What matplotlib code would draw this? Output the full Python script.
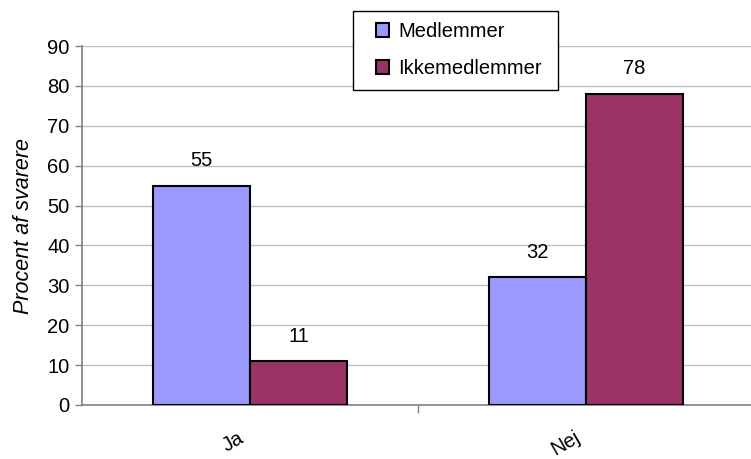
import matplotlib
matplotlib.use("Agg")
import matplotlib.pyplot as plt
import matplotlib.transforms as mtransforms
from matplotlib.patches import Rectangle
import numpy as np

plt.rcParams['font.family'] = ['Liberation Sans', 'DejaVu Sans']

categories = ["Ja", "Nej"]
series_names = ["Medlemmer", "Ikkemedlemmer"]
medlemmer = [55, 32]
ikkemedlemmer = [11, 78]
colors = ["#9999FF", "#993366"]
yticks = [0, 10, 20, 30, 40, 50, 60, 70, 80, 90]

FS = 14.5
W, H = 751, 459

fig = plt.figure(figsize=(W / 100, H / 100), dpi=100)
ax = fig.add_axes([82 / W, 1 - 405 / H, 672 / W, (405 - 46) / H])

x = np.arange(len(categories))
w = 0.288
handles = []
for i, (vals, name, col) in enumerate(zip([medlemmer, ikkemedlemmer], series_names, colors)):
    pos = x + (i - 0.5) * w
    bars = ax.bar(pos, vals, width=w, color=col, edgecolor="black", linewidth=1.5,
                  label=name, zorder=3)
    handles.append(bars)
    for b, v in zip(bars, vals):
        ax.annotate(str(v), (b.get_x() + b.get_width() / 2, v), xytext=(0, 14),
                    textcoords="offset points", ha="center", va="baseline", fontsize=FS)

ax.set_xlim(-0.5, 1.5)
ax.set_ylim(0, 90)
ax.set_yticks(yticks)
ax.tick_params(axis="y", labelsize=FS, length=5, color="#808080", width=1, pad=4)
ax.set_xticks([0.5], minor=True)
ax.set_xticks(x)
ax.set_xticklabels(categories, rotation=30, fontsize=FS, ha="right", va="top",
                   rotation_mode="anchor")
ax.tick_params(axis="x", which="major", length=0, pad=16.5)
ax.tick_params(axis="x", which="minor", length=6, color="#808080", width=1)
shift = mtransforms.ScaledTranslation(-12 / 100, 0, fig.dpi_scale_trans)
for lbl in ax.get_xticklabels():
    lbl.set_transform(lbl.get_transform() + shift)
ax.grid(axis="y", color="#c0c0c0", linewidth=1, zorder=0)
for s in ["top", "right"]:
    ax.spines[s].set_visible(False)
for s in ["left", "bottom"]:
    ax.spines[s].set_color("#808080")
    ax.spines[s].set_linewidth(1.2)

ax.set_ylabel("Procent af svarere", fontsize=15.5, style="italic", labelpad=9.5)

# legend box drawn on the figure, entries placed on top of it
fig.patches.append(Rectangle((353 / W, 1 - 90 / H), (558 - 353) / W, (90 - 11) / H,
                             transform=fig.transFigure, fill=True, facecolor="white",
                             edgecolor="black", linewidth=1, zorder=4))
leg = fig.legend(handles, series_names, loc="upper left",
                 bbox_to_anchor=(376 / W, 1 - 22 / H),
                 bbox_transform=fig.transFigure, frameon=False,
                 fontsize=FS, handlelength=0.65, handleheight=0.65, handletextpad=0.45,
                 labelspacing=0.9, borderpad=0, borderaxespad=0)
leg.set_zorder(5)
for h in leg.legend_handles:
    h.set_linewidth(1.5)

fig.savefig("out.png", dpi=100)
